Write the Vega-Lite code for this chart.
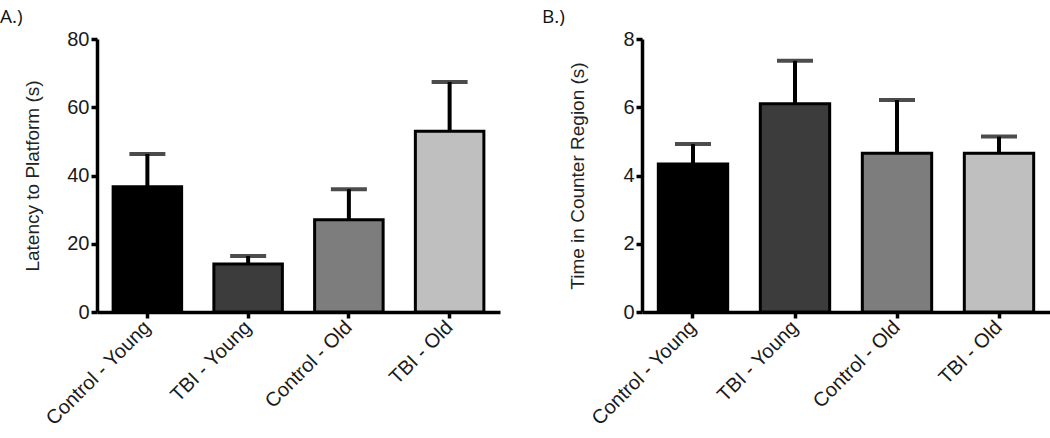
{
  "$schema": "https://vega.github.io/schema/vega-lite/v6.json",
  "background": "white",
  "padding": {"left": 0, "top": 8, "right": 5, "bottom": 5},
  "spacing": 42,
  "config": {
    "view": {"stroke": null},
    "font": "Liberation Sans",
    "axis": {
      "grid": false,
      "domainColor": "black",
      "domainWidth": 3.5,
      "tickColor": "black",
      "tickWidth": 3.5,
      "tickSize": 6,
      "labelFont": "Liberation Sans",
      "labelFontSize": 20,
      "labelColor": "#1a1a1a",
      "titleFont": "Liberation Sans",
      "titleFontSize": 19,
      "titleFontWeight": "normal",
      "titleColor": "#222"
    },
    "title": {"font": "Open Sans", "fontSize": 19, "fontWeight": "normal", "color": "#111", "anchor": "start", "frame": "group"}
  },
  "hconcat": [
    {
      "title": {"text": "A.)", "dx": -97, "offset": 2},
      "width": 403,
      "height": 273,
      "data": {"values": [
        {"group": "Control - Young", "mean": 36.7, "upper": 46.3},
        {"group": "TBI - Young", "mean": 14.1, "upper": 16.4},
        {"group": "Control - Old", "mean": 27.0, "upper": 36.0},
        {"group": "TBI - Old", "mean": 53.0, "upper": 67.4}
      ]},
      "encoding": {
        "x": {"field": "group", "type": "nominal", "sort": null,
          "scale": {"paddingInner": 0.32, "paddingOuter": 0.16},
          "axis": {"title": null, "labelAngle": -45, "labelAlign": "right", "labelBaseline": "middle", "labelPadding": 6}}
      },
      "layer": [
        {"mark": {"type": "rule", "strokeWidth": 4, "color": "black"},
         "encoding": {"y": {"field": "mean", "type": "quantitative"}, "y2": {"field": "upper"}}},
        {"mark": {"type": "tick", "size": 36, "thickness": 4, "color": "black"},
         "encoding": {"y": {"field": "upper", "type": "quantitative"}}},
        {"mark": {"type": "bar", "stroke": "black", "strokeWidth": 3},
         "encoding": {
           "y": {"field": "mean", "type": "quantitative",
             "scale": {"domain": [0, 80]},
             "axis": {"title": "Latency to Platform (s)", "values": [0, 20, 40, 60, 80], "labelPadding": 2, "titleX": -55, "titleY": 136.5, "titleBaseline": "bottom", "titleAngle": -90, "titleAlign": "center"}},
           "color": {"field": "group", "type": "nominal", "sort": null, "legend": null,
             "scale": {"domain": ["Control - Young", "TBI - Young", "Control - Old", "TBI - Old"], "range": ["#000000", "#3c3c3c", "#7d7d7d", "#bfbfbf"]}}
         }}
      ]
    },
    {
      "title": {"text": "B.)", "dx": -100, "offset": 2},
      "width": 408,
      "height": 273,
      "data": {"values": [
        {"group": "Control - Young", "mean": 4.34, "upper": 4.92},
        {"group": "TBI - Young", "mean": 6.1, "upper": 7.36},
        {"group": "Control - Old", "mean": 4.65, "upper": 6.21},
        {"group": "TBI - Old", "mean": 4.65, "upper": 5.14}
      ]},
      "encoding": {
        "x": {"field": "group", "type": "nominal", "sort": null,
          "scale": {"paddingInner": 0.32, "paddingOuter": 0.16},
          "axis": {"title": null, "labelAngle": -45, "labelAlign": "right", "labelBaseline": "middle", "labelPadding": 6}}
      },
      "layer": [
        {"mark": {"type": "rule", "strokeWidth": 4, "color": "black"},
         "encoding": {"y": {"field": "mean", "type": "quantitative"}, "y2": {"field": "upper"}}},
        {"mark": {"type": "tick", "size": 36, "thickness": 4, "color": "black"},
         "encoding": {"y": {"field": "upper", "type": "quantitative"}}},
        {"mark": {"type": "bar", "stroke": "black", "strokeWidth": 3},
         "encoding": {
           "y": {"field": "mean", "type": "quantitative",
             "scale": {"domain": [0, 8]},
             "axis": {"title": "Time in Counter Region (s)", "values": [0, 2, 4, 6, 8], "labelPadding": 2, "titleX": -55, "titleY": 136.5, "titleBaseline": "bottom", "titleAngle": -90, "titleAlign": "center"}},
           "color": {"field": "group", "type": "nominal", "sort": null, "legend": null,
             "scale": {"domain": ["Control - Young", "TBI - Young", "Control - Old", "TBI - Old"], "range": ["#000000", "#3c3c3c", "#7d7d7d", "#bfbfbf"]}}
         }}
      ]
    }
  ]
}
